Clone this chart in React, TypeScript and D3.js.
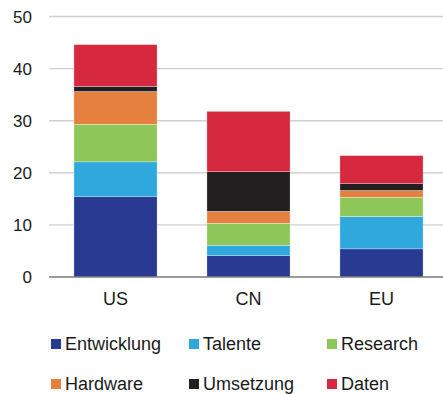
import React from "react";
import * as d3 from "d3";

const categories = ["US", "CN", "EU"];
const seriesNames = ["Entwicklung", "Talente", "Research", "Hardware", "Umsetzung", "Daten"];
const seriesColors = ["#283a92", "#2ea8dd", "#8dc75a", "#e5803f", "#231f20", "#d6283f"];
const entwicklung = [15.4, 4.1, 5.4];
const talente = [6.7, 2.0, 6.2];
const research = [7.2, 4.2, 3.7];
const hardware = [6.3, 2.3, 1.3];
const umsetzung = [1.0, 7.6, 1.3];
const daten = [8.0, 11.6, 5.4];
const yTicks = [0, 10, 20, 30, 40, 50];

const W = 443;
const H = 394;
const FONT = "'Liberation Sans', Arial, sans-serif";

export default function App() {
  const values = [entwicklung, talente, research, hardware, umsetzung, daten];
  const rows = categories.map((c, i) => {
    const r: Record<string, number | string> = { cat: c };
    seriesNames.forEach((s, k) => (r[s] = values[k][i]));
    return r;
  });
  const stacked = d3.stack<any>().keys(seriesNames)(rows);

  const x = d3.scaleBand().domain(categories).range([49, 448]).paddingInner(0.375).paddingOuter(0.1875);
  const y = d3.scaleLinear().domain([0, 50]).range([277, 16.5]);

  const legendCols = [51, 189, 327];
  const legendRows = [339, 379];

  return (
    <svg width={W} height={H} style={{ position: "absolute", left: 0, top: 0 }} fontFamily={FONT}>
      <rect width={W} height={H} fill="#fff" />
      {yTicks.filter((t) => t > 0).map((t) => (
        <line key={t} x1={49} x2={W} y1={y(t)} y2={y(t)} stroke="#d0d0d0" strokeWidth={1.4} />
      ))}
      {yTicks.map((t) => (
        <text key={t} x={32} y={y(t)} dy="0.36em" textAnchor="end" fontSize={17} fill="#1a1a1a">
          {t}
        </text>
      ))}
      {stacked.map((layer, k) => (
        <g key={layer.key} fill={seriesColors[k]}>
          {layer.map((d, i) => (
            <rect
              key={i}
              x={x(categories[i])}
              width={x.bandwidth()}
              y={y(d[1])}
              height={y(d[0]) - y(d[1])}
              stroke="#ffffff"
              strokeOpacity={0.6}
              strokeWidth={0.5}
            />
          ))}
        </g>
      ))}
      <line x1={49} x2={W} y1={y(0)} y2={y(0)} stroke="#7a7a7a" strokeWidth={1.4} />
      {categories.map((c) => (
        <text key={c} x={(x(c) as number) + x.bandwidth() / 2} y={305} textAnchor="middle" fontSize={18} fill="#1a1a1a">
          {c}
        </text>
      ))}
      {seriesNames.map((s, k) => {
        const cx = legendCols[k % 3];
        const cy = legendRows[Math.floor(k / 3)];
        return (
          <g key={s}>
            <rect x={cx} y={cy} width={10} height={10} fill={seriesColors[k]} />
            <text x={cx + 14} y={cy + 11} fontSize={18} fill="#1a1a1a">
              {s}
            </text>
          </g>
        );
      })}
    </svg>
  );
}
